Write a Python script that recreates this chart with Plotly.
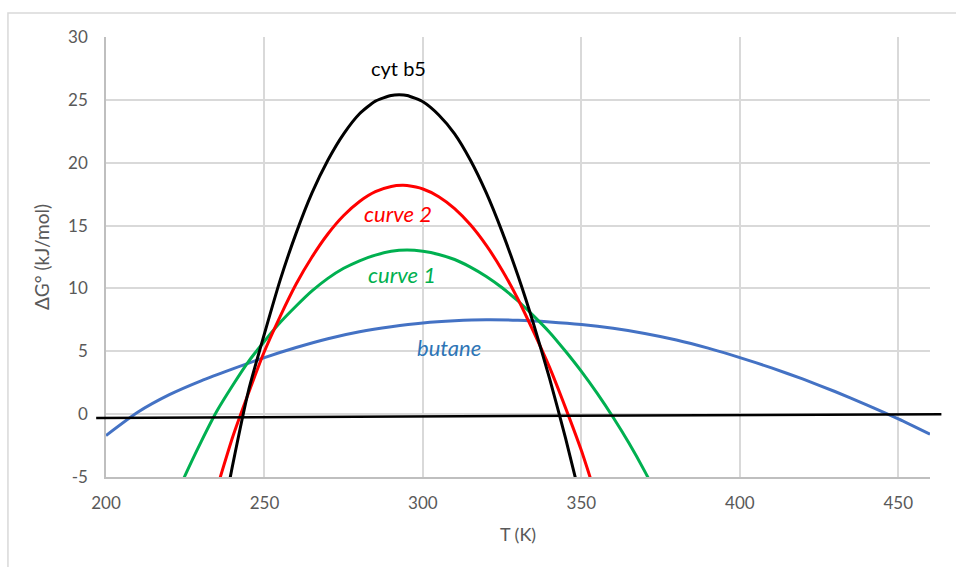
import plotly.graph_objects as go

# Temperature grid (K) and free-energy values (kJ/mol) for each curve
T_cyt = [238, 240, 245, 250, 255, 260, 265, 270, 275, 280, 285, 290, 292.5, 295, 300,
         305, 310, 315, 320, 325, 330, 335, 340, 345, 350]
G_cyt = [-6.6, -4.0, 1.9, 6.4, 10.7, 14.4, 17.6, 20.2, 22.3, 23.9, 24.9, 25.35, 25.4, 25.35, 24.85,
         23.8, 22.3, 20.2, 17.6, 14.5, 11.0, 7.1, 2.8, -1.9, -7.0]

T_c2 = [235, 240, 245, 250, 255, 260, 265, 270, 275, 280, 285, 290, 293.5, 295, 300,
        305, 310, 315, 320, 325, 330, 335, 340, 345, 350, 355]
G_c2 = [-5.9, -1.8, 1.7, 5.0, 7.8, 10.35, 12.5, 14.33, 15.8, 16.92, 17.7, 18.11, 18.2, 18.18, 17.91,
        17.3, 16.35, 15.06, 13.42, 11.45, 9.14, 6.5, 3.7, 0.5, -2.9, -6.8]

T_c1 = [222, 225, 230, 235, 240, 245, 250, 255, 260, 265, 270, 275, 280, 285, 290, 295, 300,
        305, 310, 315, 320, 325, 330, 335, 340, 345, 350, 355, 360, 365, 370, 375]
G_c1 = [-6.6, -4.85, -2.2, 0.25, 2.3, 4.2, 5.8, 7.3, 8.6, 9.8, 10.8, 11.6, 12.2, 12.65, 12.95, 13.05, 12.95,
        12.7, 12.3, 11.7, 10.95, 10.05, 9.0, 7.8, 6.5, 5.0, 3.4, 1.65, -0.25, -2.3, -4.55, -7.0]

T_but = [200, 210, 220, 230, 240, 250, 260, 270, 280, 290, 300, 310, 320, 330, 340,
         350, 360, 370, 380, 390, 400, 410, 420, 430, 440, 450, 460]
G_but = [-1.7, 0.15, 1.55, 2.65, 3.6, 4.5, 5.3, 6.0, 6.55, 6.95, 7.25, 7.42, 7.5, 7.46, 7.33,
         7.13, 6.83, 6.42, 5.9, 5.25, 4.5, 3.68, 2.78, 1.8, 0.74, -0.38, -1.6]

# Reference baseline near zero
T_base = [196.9, 463.6]
G_base = [-0.3, 0.0]

# Curve labels
label_text = ["cyt b5", "curve 2", "curve 1", "butane"]
label_T = [292.2, 292.0, 293.3, 308.2]
label_G = [27.5, 15.98, 11.07, 5.3]
label_color = ["#000000", "#FF0000", "#00B050", "#2E75B6"]
label_italic = [False, True, True, True]
label_size = [20, 22, 22, 22]

x_ticks = [200, 250, 300, 350, 400, 450]
y_ticks = [-5, 0, 5, 10, 15, 20, 25, 30]
x_range = [200, 460]
y_range = [-5, 30]

FONT = "Lato, 'Open Sans', sans-serif"
GRAY = "#595959"

fig = go.Figure()

series = [
    (T_but, G_but, "#4472C4"),
    (T_c1, G_c1, "#00B050"),
    (T_c2, G_c2, "#FF0000"),
    (T_cyt, G_cyt, "#000000"),
]
for xs, ys, col in series:
    fig.add_trace(go.Scatter(x=xs, y=ys, mode="lines",
                             line=dict(color=col, width=3, shape="spline", smoothing=0.6),
                             hoverinfo="skip", showlegend=False))

def to_paper_x(t):
    return (t - x_range[0]) / (x_range[1] - x_range[0])

# baseline drawn in paper x so it can run past the plot edges
fig.add_shape(type="line", xref="paper", yref="y",
              x0=to_paper_x(T_base[0]), x1=to_paper_x(T_base[1]),
              y0=G_base[0], y1=G_base[1],
              line=dict(color="#000000", width=2.5), layer="above")

# outer chart border
fig.add_shape(type="rect", xref="paper", yref="paper",
              x0=-0.119, x1=1.05, y0=-0.25, y1=1.0545,
              line=dict(color="#D9D9D9", width=1.5), fillcolor="rgba(0,0,0,0)", layer="below")

for txt, t, g, col, it, sz in zip(label_text, label_T, label_G, label_color, label_italic, label_size):
    fig.add_annotation(x=t, y=g, text=(f"<i>{txt}</i>" if it else txt), showarrow=False,
                       font=dict(family=FONT, size=sz, color=col),
                       xanchor="center", yanchor="middle")

fig.update_layout(
    width=956, height=567,
    margin=dict(l=106, r=26, t=37, b=90),
    paper_bgcolor="white", plot_bgcolor="white",
    font=dict(family=FONT, color=GRAY, size=17),
    showlegend=False,
)
fig.update_xaxes(range=x_range, tickvals=x_ticks, ticktext=[str(v) for v in x_ticks],
                 showgrid=True, gridcolor="#D9D9D9", gridwidth=1.5,
                 showline=True, linecolor="#BFBFBF", linewidth=1.5,
                 zeroline=False, ticks="", ticklen=0, ticklabelstandoff=10,
                 tickfont=dict(family=FONT, size=17, color=GRAY),
                 title=dict(text="T (K)", font=dict(family=FONT, size=18, color=GRAY), standoff=16))
fig.update_yaxes(range=y_range, tickvals=y_ticks, ticktext=[str(v) for v in y_ticks],
                 showgrid=True, gridcolor="#D9D9D9", gridwidth=1.5,
                 showline=True, linecolor="#BFBFBF", linewidth=1.5,
                 zeroline=False, ticks="", ticklen=0, ticklabelstandoff=13,
                 tickfont=dict(family=FONT, size=17, color=GRAY),
                 title=dict(text="ΔG° (kJ/mol)", font=dict(family=FONT, size=19, color=GRAY), standoff=13))

fig.write_html("out.html")
